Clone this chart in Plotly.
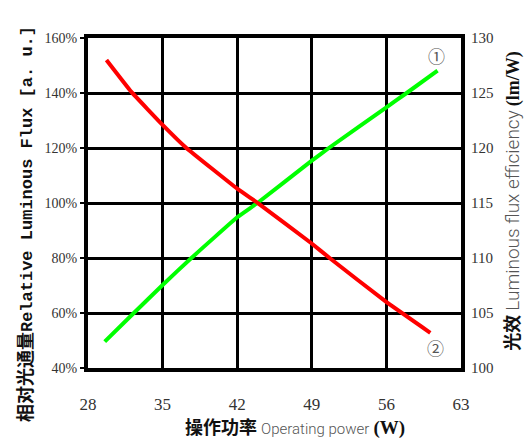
import plotly.graph_objects as go

# Data
power_flux = [29.57, 32.3, 35, 37.7, 42, 43.9, 49, 50.6, 56, 57.9, 60.8]
rel_flux = [49.6, 60, 70.2, 80, 94.8, 100, 115.4, 120, 134.8, 140, 148.1]

power_eff = [29.73, 32.07, 35, 37.23, 42, 44, 48.96, 50.67, 55.95, 60.12]
efficacy = [128.0, 125.1, 122.1, 120.0, 116.3, 114.95, 111.34, 110.0, 106.03, 103.2]

x_ticks = [28, 35, 42, 49, 56, 63]
y_ticks = [40, 60, 80, 100, 120, 140, 160]
y2_ticks = [100, 105, 110, 115, 120, 125, 130]

fig = go.Figure()
fig.add_trace(go.Scatter(x=power_flux, y=rel_flux, mode="lines",
                         line=dict(color="#00ff00", width=4, shape="spline", smoothing=0.3),
                         showlegend=False, yaxis="y"))
fig.add_trace(go.Scatter(x=power_eff, y=efficacy, mode="lines",
                         line=dict(color="#ff0000", width=4, shape="spline", smoothing=0.3),
                         showlegend=False, yaxis="y2"))

tickfont = dict(family="Liberation Serif", color="#333333")

fig.update_layout(
    width=528, height=442,
    margin=dict(l=88, r=67, t=38, b=74),
    paper_bgcolor="white", plot_bgcolor="white",
    xaxis=dict(range=[28, 63], tickvals=x_ticks, showgrid=True, gridcolor="black", gridwidth=3,
               showline=True, linecolor="black", linewidth=4, mirror=True, zeroline=False,
               ticks="", tickfont=dict(size=17, **tickfont), ticklabelstandoff=18),
    yaxis=dict(range=[40, 160], tickvals=y_ticks, ticktext=[f"{v}%" for v in y_ticks],
               showgrid=True, gridcolor="black", gridwidth=3,
               showline=True, linecolor="black", linewidth=4, mirror=True, zeroline=False,
               ticks="outside", ticklen=4, tickwidth=2, tickcolor="black",
               tickfont=dict(size=14, **tickfont)),
    yaxis2=dict(range=[100, 130], tickvals=y2_ticks, overlaying="y", side="right",
                showgrid=False, zeroline=False, showline=False, ticks="",
                tickfont=dict(size=15, **tickfont), ticklabelstandoff=9),
    annotations=[
        dict(text="<b>相对光通量</b><span style='font-family:Liberation Mono;font-size:17px'><b>Relative Luminous Flux [a. u.]</b></span>",
             xref="paper", yref="paper", x=-0.17, y=0.435, textangle=-90, showarrow=False,
             font=dict(family="Noto Sans CJK SC", size=18, color="#111111"), xanchor="center", yanchor="middle"),
        dict(text="<b>光效</b> <span style='font-family:Roboto;font-weight:300;color:#555555;font-size:19px'>Luminous flux efficiency</span> <span style='font-family:Liberation Serif;font-size:18px'><b>(lm/W)</b></span>",
             xref="paper", yref="paper", x=1.135, y=0.505, textangle=-90, showarrow=False,
             font=dict(family="Noto Sans CJK SC", size=18, color="#111111"), xanchor="center", yanchor="middle"),
        dict(text="<b>操作功率</b> <span style='font-family:Roboto;font-weight:300;color:#555555;font-size:15px'>Operating power</span> <span style='font-family:Liberation Serif;font-size:19px'><b>(W)</b></span>",
             xref="paper", yref="paper", x=0.555, y=-0.175, showarrow=False,
             font=dict(family="Noto Sans CJK SC", size=18, color="#111111"), xanchor="center", yanchor="middle"),
        dict(text="①", x=60.7, y=153.8, xref="x", yref="y", showarrow=False,
             font=dict(family="Noto Sans CJK SC", size=17, color="#555555")),
        dict(text="②", x=60.6, y=47.3, xref="x", yref="y", showarrow=False,
             font=dict(family="Noto Sans CJK SC", size=17, color="#555555")),
    ],
)

fig.write_html("out.html", config={"displayModeBar": False},
               post_script="document.body.style.margin='0';document.body.style.padding='0';")
